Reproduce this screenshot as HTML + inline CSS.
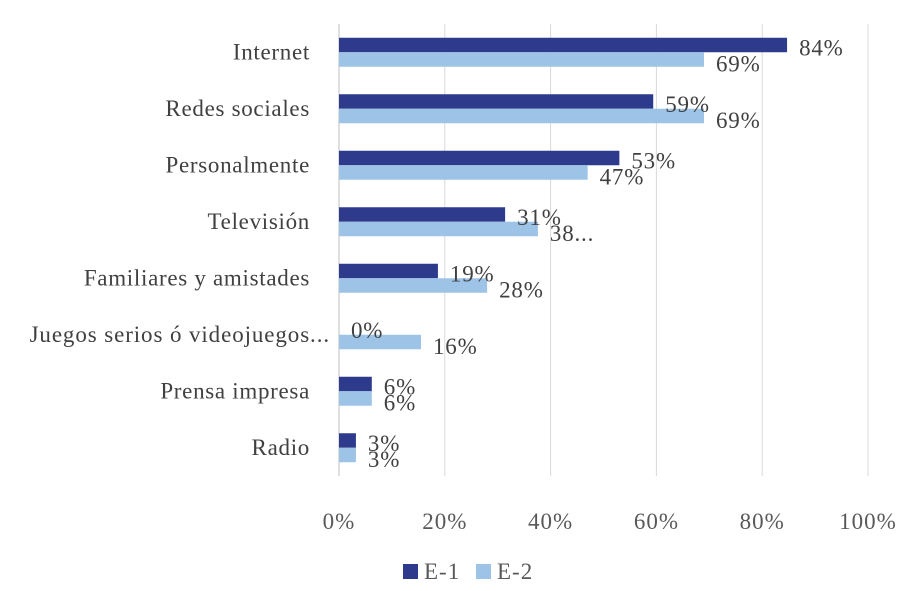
<!DOCTYPE html>
<html><head><meta charset="utf-8"><style>
body{margin:0;background:#fff;}
svg{display:block;font-family:"Liberation Serif",serif;}
</style></head><body>
<svg id="c" width="920" height="591"></svg>
<script>
const categories=["Internet","Redes sociales","Personalmente","Televisión","Familiares y amistades","Juegos serios ó videojuegos...","Prensa impresa","Radio"];
const seriesE1=[84.7,59.4,53,31.4,18.7,0,6.2,3.2];
const labelsE1=["84%","59%","53%","31%","19%","0%","6%","3%"];
const seriesE2=[69,69,47,37.6,28,15.5,6.2,3.2];
const labelsE2=["69%","69%","47%","38...","28%","16%","6%","3%"];
const ticks=[0,20,40,60,80,100];
const NS="http://www.w3.org/2000/svg";
const svgEl=document.getElementById('c');
const x0=339,x1=868,plotTop=24,plotBottom=476;
const xs=v=>x0+(x1-x0)*v/100;
const band=(plotBottom-plotTop)/categories.length;
const FS=23;
function mk(t,a,txt){const e=document.createElementNS(NS,t);for(const k in a)e.setAttribute(k,a[k]);if(txt!==undefined)e.textContent=txt;svgEl.appendChild(e);return e;}
ticks.forEach(t=>{
 const g=mk('line',{x1:xs(t),x2:xs(t),y1:plotTop,y2:plotBottom,stroke:t===0?'#bfbfbf':'#d9d9d9','stroke-width':1});
 
 
 const l=mk('text',{x:xs(t),y:529,'text-anchor':'middle','font-size':FS,'letter-spacing':1,fill:'#595959'},t+'%');
 
 
});
categories.forEach((c,i)=>{
 const cy=plotTop+band*(i+0.5);
 const long=c.length>25;
 const l=mk('text',{x:long?330:310,y:cy+7,'text-anchor':'end','font-size':FS,'letter-spacing':long?0.9:0.7,fill:'#404040'},c);
 
 
 const b1=mk('rect',{x:x0,y:cy-14.5,width:xs(seriesE1[i])-x0,height:14.5,fill:'#2e3a8c'});
 
 
 const b2=mk('rect',{x:x0,y:cy,width:xs(seriesE2[i])-x0,height:14.5,fill:'#9dc3e6'});
 
 
 const t1=mk('text',{x:xs(seriesE1[i])+12,y:cy+3,'font-size':FS,'letter-spacing':0.8,fill:'#404040'},labelsE1[i]);
 
 
 const t2=mk('text',{x:xs(seriesE2[i])+12,y:cy+19,'font-size':FS,'letter-spacing':0.8,fill:'#404040'},labelsE2[i]);
 
 
});
[['E-1','#2e3a8c',403],['E-2','#9dc3e6',476]].forEach(([n,col,x])=>{
 const r=mk('rect',{x:x,y:564,width:15,height:15,fill:col});
 
 
 const t=mk('text',{x:x+21,y:579,'font-size':FS,'letter-spacing':1,fill:'#595959'},n);
 
 
});
</script>
</body></html>
